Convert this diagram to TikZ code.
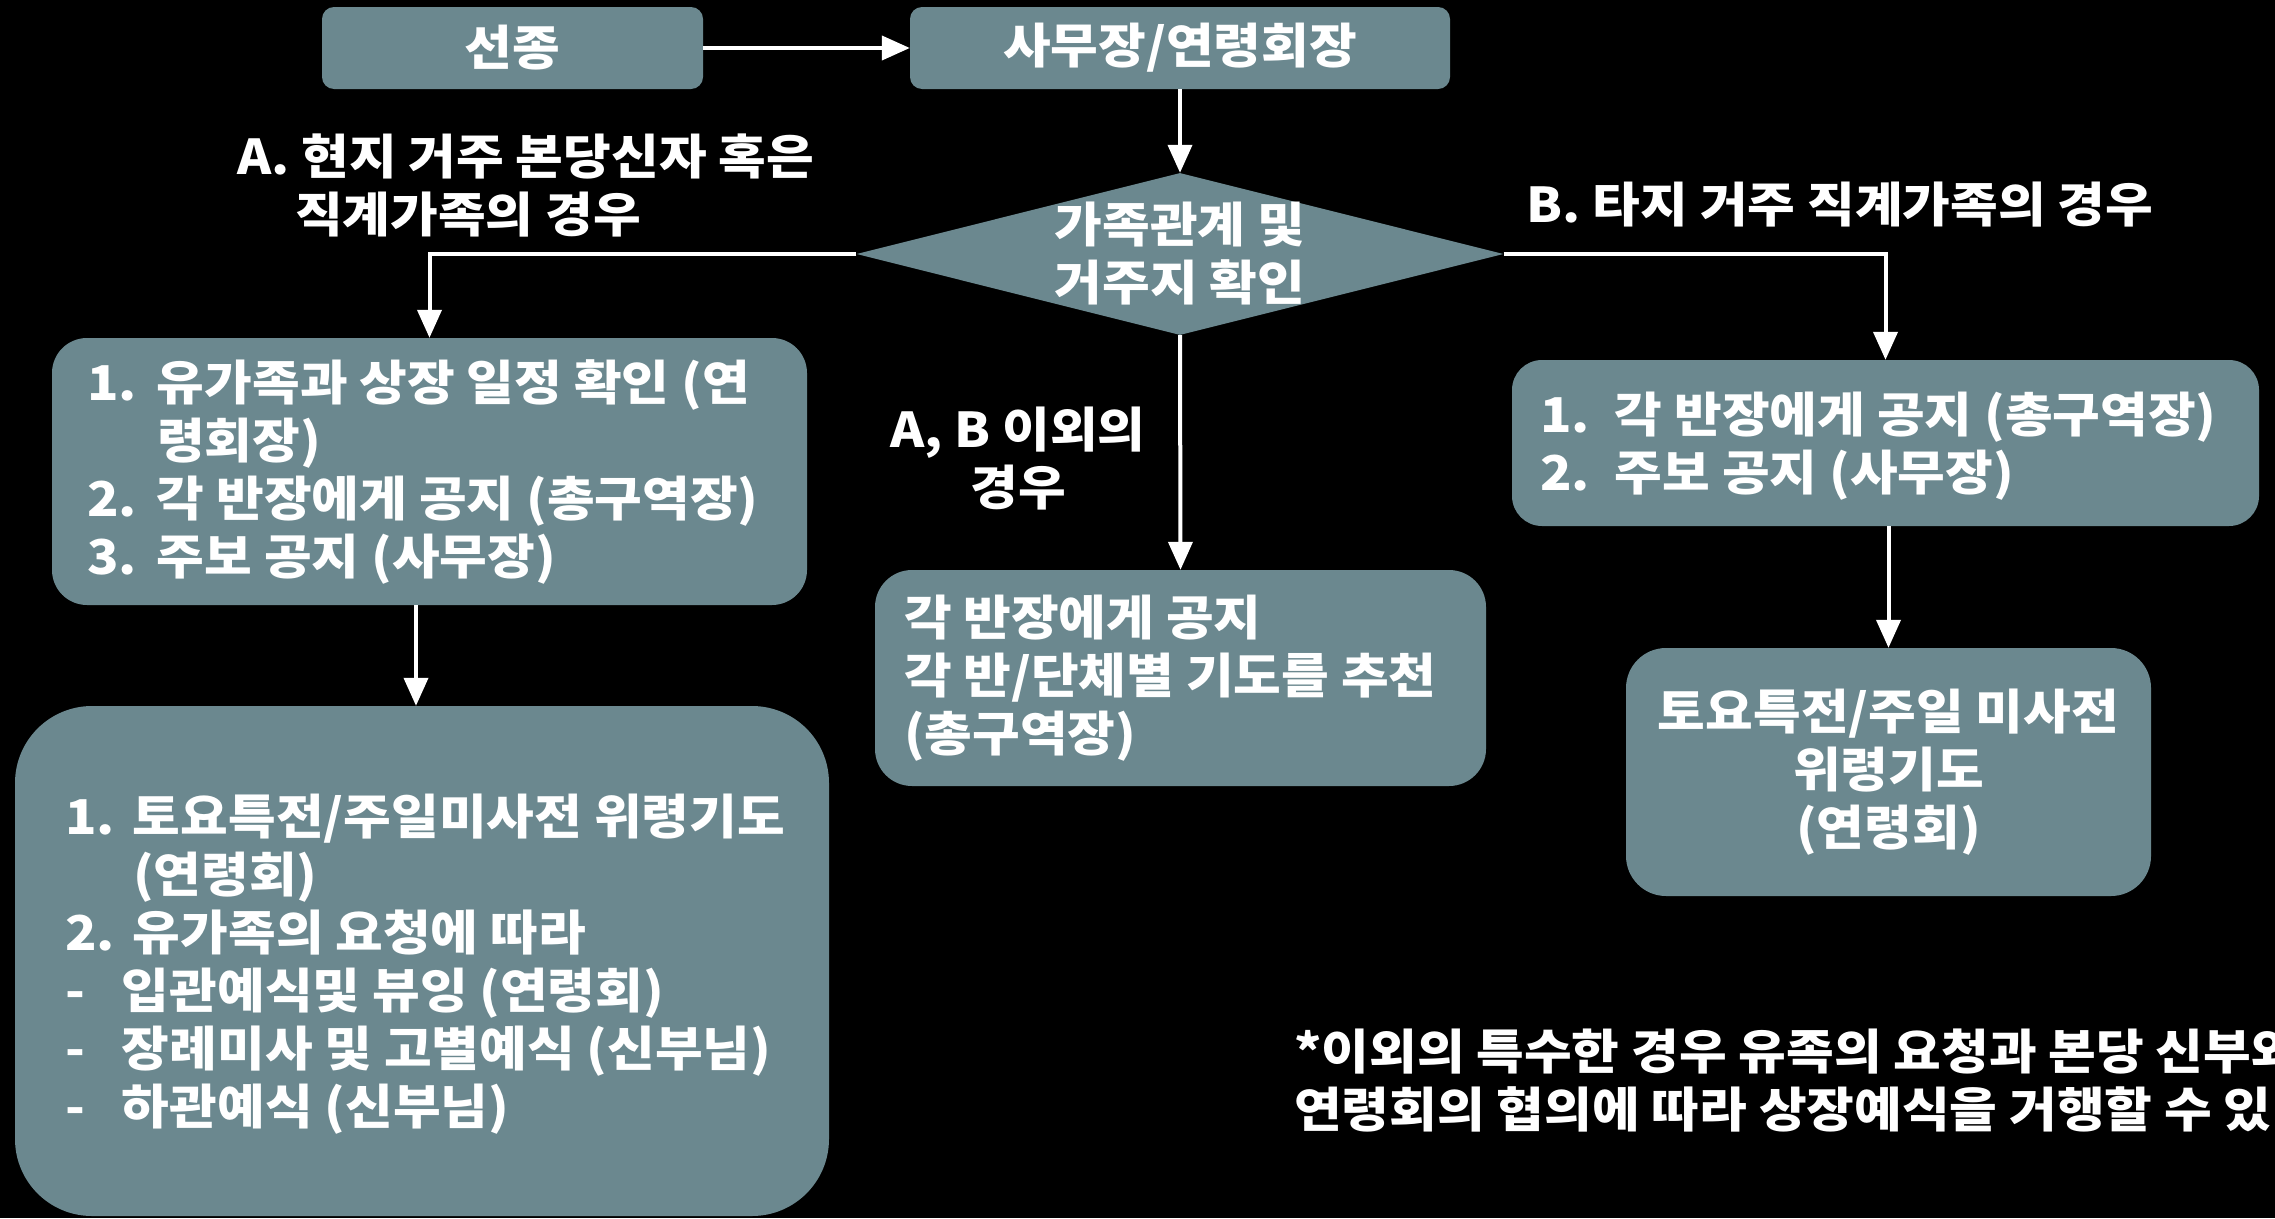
\documentclass[tikz,border=0pt]{standalone}
\usepackage{fontspec}
\setmainfont{Noto Sans CJK KR}[FakeStretch=1.08]
\usetikzlibrary{arrows.meta,shapes.geometric}
\definecolor{boxc}{RGB}{107,136,143}
\newcommand\lead[2][70pt]{\makebox[#1][l]{#2}}
\begin{document}
\begin{tikzpicture}[x=1pt,y=-1pt,
  box/.style={fill=boxc, rounded corners=#1, inner sep=0pt, text=white},
  box/.default=12pt,
  txt/.style={text=white, inner sep=0pt, font=\bfseries\fontsize{48}{58}\selectfont},
  arr/.style={draw=white, line width=4pt, -{Triangle[width=24pt,length=28pt]}},
  ln/.style={draw=white, line width=4pt}]
\fill[black] (0,0) rectangle (2275,1218);
\useasboundingbox (0,0) rectangle (2275,1218);
\clip (0,0) rectangle (2275,1218);

% top boxes
\node[box, minimum width=381pt, minimum height=82pt] (S) at (512.5,48) {};
\node[txt] at (S) {선종};
\node[box, minimum width=540pt, minimum height=82pt] (M) at (1180,48) {};
\node[txt] at (M) {사무장/연령회장};

% diamond
\node[diamond, fill=boxc, inner sep=0pt, minimum width=647pt, minimum height=162pt] (D) at (1180,254) {};
\node[txt, align=center] at (D) {가족관계 및\\거주지 확인};

% left branch boxes
\node[box=35pt, minimum width=755pt, minimum height=267pt] (A1) at (429.5,471.5) {};
\node[txt, anchor=west, align=left] at ([xshift=35pt]A1.west) {\lead{1.}유가족과 상장 일정 확인 (연\\\hspace*{70pt}령회장)\\\lead{2.}각 반장에게 공지 (총구역장)\\\lead{3.}주보 공지 (사무장)};

\node[box=77pt, minimum width=814pt, minimum height=510pt] (A2) at (422,961) {};
\node[txt, anchor=west, align=left] at ([xshift=50pt,yshift=-3pt]A2.west) {\lead[68pt]{1.}토요특전/주일미사전 위령기도\\\hspace*{68pt}(연령회)\\\lead[68pt]{2.}유가족의 요청에 따라\\\lead[57pt]{-}입관예식및 뷰잉 (연령회)\\\lead[57pt]{-}장례미사 및 고별예식 (신부님)\\\lead[57pt]{-}하관예식 (신부님)};

% middle box
\node[box=37pt, minimum width=611pt, minimum height=216pt] (C) at (1180.5,678) {};
\node[txt, anchor=west, align=left] at ([xshift=29pt]C.west) {각 반장에게 공지\\각 반/단체별 기도를 추천\\(총구역장)};

% right boxes
\node[box=30pt, minimum width=747pt, minimum height=166pt] (B1) at (1885.5,443) {};
\node[txt, anchor=west, align=left] at ([xshift=28pt,yshift=-3pt]B1.west) {\lead[75pt]{1.}각 반장에게 공지 (총구역장)\\\lead[75pt]{2.}주보 공지 (사무장)};
\node[box=40pt, minimum width=525pt, minimum height=248pt] (B2) at (1888.5,772) {};
\node[txt, align=center] at (B2) {토요특전/주일 미사전\\위령기도\\(연령회)};

% labels
\node[txt, anchor=west, align=left] (labA) at (237,185) {A. 현지 거주 본당신자 혹은\\\hspace*{58pt}직계가족의 경우};
\node[txt] (labB) at (1840,205) {B. 타지 거주 직계가족의 경우};
\node[txt, align=center] (labC) at (1018,459) {A, B 이외의\\경우};
\node[txt, anchor=west, align=left] (note) at (1294,1081) {*이외의 특수한 경우 유족의 요청과 본당 신부와\\연령회의 협의에 따라 상장예식을 거행할 수 있};

% connectors
\coordinate (ax) at (416,0);
\draw[arr] (S.east) -- (M.west);
\draw[arr] (M.south) -- (D.north);
\draw[arr] (D.west) -| (A1.north);
\draw[arr] (D.east) -| (B1.north);
\draw[arr] (D.south) -- (C.north);
\draw[arr] (A1.south -| ax) -- (A2.north -| ax);
\draw[arr] (B1.south -| B2.north) -- (B2.north);
\end{tikzpicture}
\end{document}
